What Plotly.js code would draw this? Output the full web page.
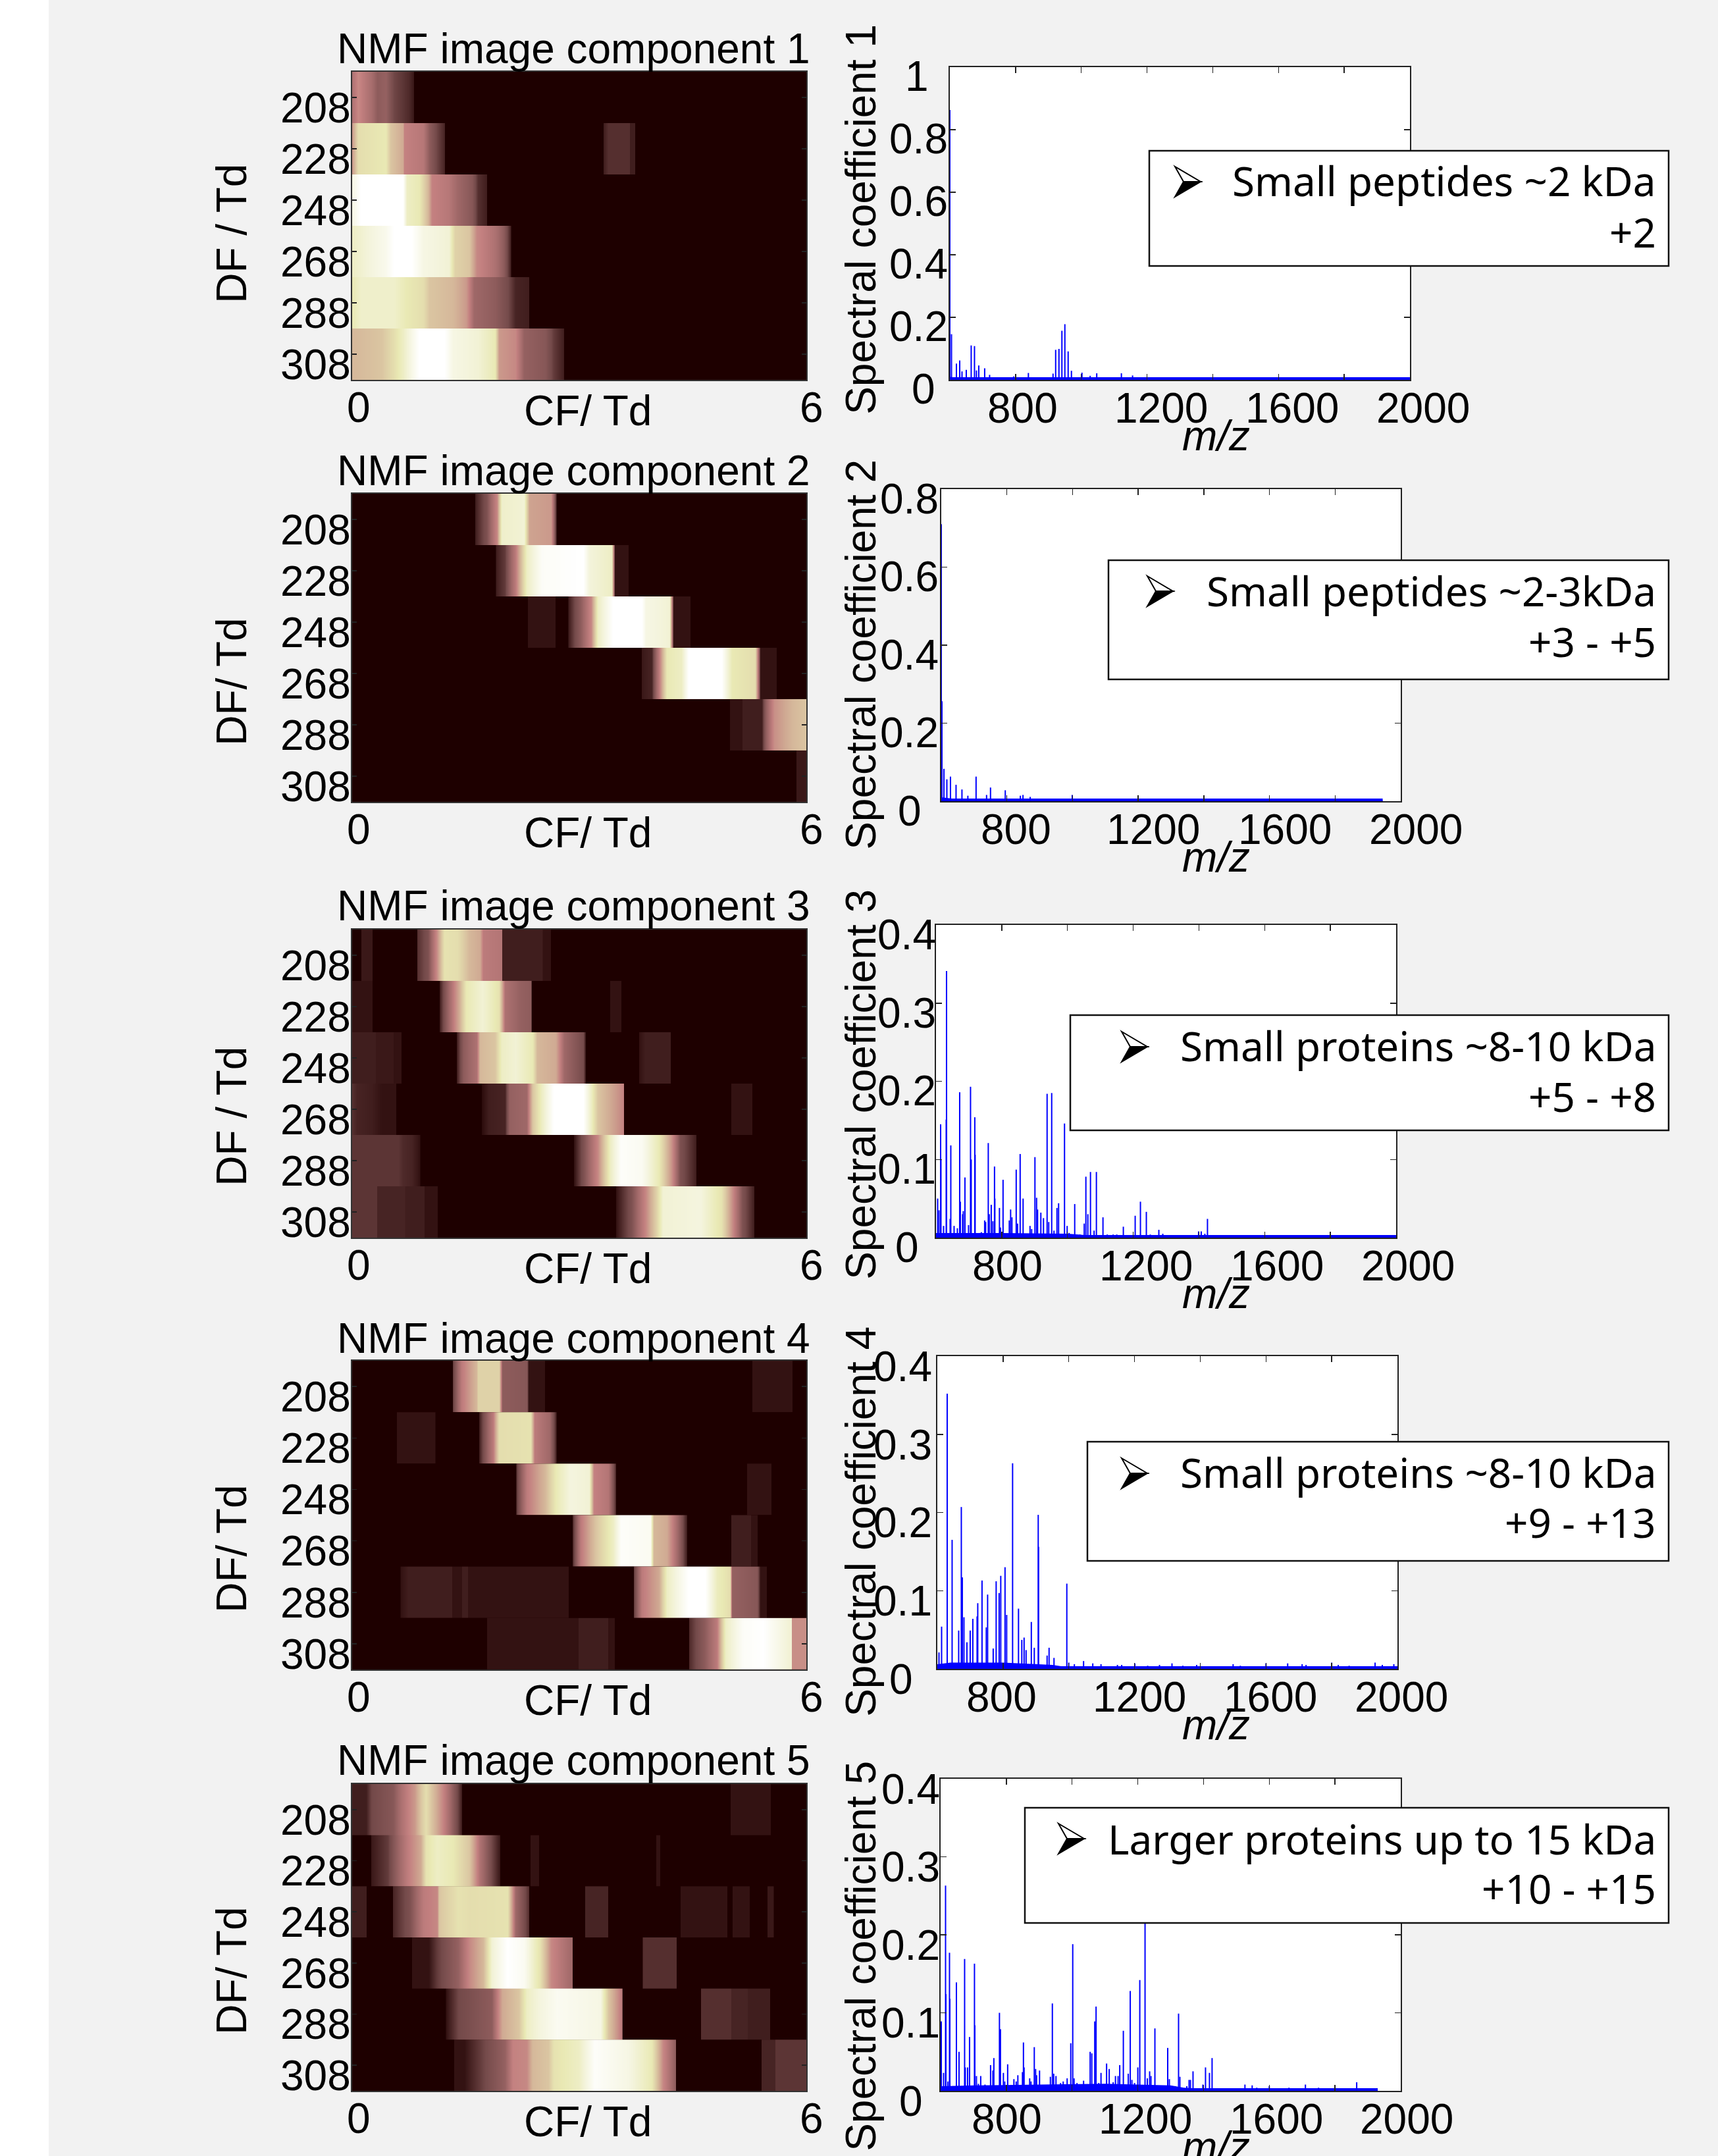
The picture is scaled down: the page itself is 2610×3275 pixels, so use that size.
<!DOCTYPE html>
<html><head><meta charset="utf-8">
<script src="https://cdn.plot.ly/plotly-3.0.1.min.js"></script>
<style>html,body{margin:0;padding:0;background:#fff}#g{width:2610px;height:3275px}</style>
</head><body><div id="g"></div>
<script>
const dfTicks=[208,228,248,268,288,308];
const cfLabels=['0','6'];
const titles=['NMF image component 1','NMF image component 2','NMF image component 3','NMF image component 4','NMF image component 5'];
const dfTitles=['DF / Td','DF/ Td','DF / Td','DF/ Td','DF/ Td'];
const specTitles=['Spectral coefficient 1','Spectral coefficient 2','Spectral coefficient 3','Spectral coefficient 4','Spectral coefficient 5'];
const notes1=['Small peptides ~2 kDa','Small peptides ~2-3kDa','Small proteins ~8-10 kDa','Small proteins ~8-10 kDa','Larger proteins up to 15 kDa'];
const notes2=['+2','+3 - +5','+5 - +8','+9 - +13','+10 - +15'];
const mzLabels=[800,1200,1600,2000];
const specMax=[1,0.8,0.4,0.4,0.4];
const specTicks=[[0,0.2,0.4,0.6,0.8,1],[0,0.2,0.4,0.6,0.8],[0,0.1,0.2,0.3,0.4],[0,0.1,0.2,0.3,0.4],[0,0.1,0.2,0.3,0.4]];

// image components: each row is CF, value, CF, value ...
const image1=[
[0,.3,.08,.4,.17,.33,.25,.28,.33,.2,.44,.22,.55,.12,.67,.09,.75,.07,.81,.04,.82,0,6,0],
[0,.45,.08,.7,.22,.72,.44,.75,.5,.6,.67,.5,.69,.38,.94,.33,1.02,.2,1.11,.12,1.22,.06,1.23,0,3.31,0,3.32,.05,3.38,.08,3.66,.08,3.67,.05,3.73,.05,3.74,0,6,0],
[0,.9,.11,1,.67,1,.72,.8,.89,.75,1.0,.55,1.05,.38,1.28,.33,1.39,.25,1.58,.18,1.66,.08,1.77,.05,1.78,0,6,0],
[0,.8,.22,.87,.44,.93,.55,1,.78,1,.94,.9,1.28,.85,1.36,.65,1.55,.6,1.64,.4,1.89,.3,2.0,.2,2.09,.06,2.10,0,6,0],
[0,.75,.11,.82,.55,.82,.72,.75,.94,.7,1.02,.6,1.33,.55,1.5,.45,1.61,.25,1.89,.2,2.05,.13,2.16,.06,2.33,.05,2.34,0,6,0],
[0,.55,.39,.6,.55,.7,.67,.8,.83,.95,.89,1,1.22,1,1.33,.9,1.66,.85,1.89,.75,1.94,.45,2.16,.4,2.27,.22,2.55,.18,2.66,.1,2.79,.05,2.80,0,6,0]];
const image2=[
[0,0,1.62,0,1.63,.05,1.77,.15,1.91,.4,1.97,.82,2.27,.85,2.34,.48,2.63,.45,2.69,.1,2.70,0,6,0],
[0,0,1.89,0,1.90,.05,2.02,.1,2.16,.35,2.30,.8,2.50,.97,3.05,1,3.13,.87,3.43,.8,3.47,.03,3.64,.03,3.65,0,6,0],
[0,0,2.31,0,2.32,.03,2.68,.03,2.69,0,2.84,0,2.86,.05,3.02,.2,3.16,.4,3.24,.8,3.44,1,3.83,1,3.88,.9,4.19,.85,4.24,.03,4.46,.03,4.47,0,6,0],
[0,0,3.82,0,3.83,.04,3.96,.06,4.05,.35,4.16,.75,4.35,.8,4.44,1,4.88,1,5.02,.75,5.32,.7,5.39,.03,5.60,.03,5.61,0,6,0],
[0,0,4.98,0,4.99,.03,5.15,.03,5.16,.05,5.41,.05,5.46,.2,5.57,.42,5.82,.55,6,.6],
[0,0,5.86,0,5.87,.04,6,.04]];
const image3=[
[0,0,.11,0,.12,.04,.26,.04,.27,0,.85,0,.86,.08,1.0,.15,1.11,.4,1.22,.72,1.39,.7,1.55,.55,1.69,.5,1.73,.35,1.97,.32,1.98,.05,2.5,.05,2.52,.03,2.62,.03,2.63,0,6,0],
[0,.03,.26,.03,.27,0,1.15,0,1.16,.05,1.3,.3,1.41,.5,1.5,.75,1.72,.85,1.94,.72,2.02,.3,2.22,.22,2.36,.2,2.37,0,3.4,0,3.41,.03,3.55,.03,3.56,0,6,0],
[0,.05,.3,.05,.31,.04,.54,.04,.55,.03,.64,.03,.65,0,1.37,0,1.38,.05,1.47,.2,1.64,.3,1.69,.55,1.89,.6,1.97,.8,2.16,.85,2.38,.75,2.44,.55,2.69,.5,2.8,.25,3.05,.13,3.08,.05,3.09,0,3.78,0,3.79,.03,3.87,.05,4.2,.05,4.21,0,6,0],
[0,.08,.06,.06,.25,.05,.39,.03,.57,.03,.58,0,1.7,0,1.71,.02,1.8,.05,2.02,.06,2.08,.22,2.3,.25,2.38,.6,2.5,.8,2.66,1,3.05,1,3.16,.8,3.24,.6,3.49,.45,3.58,.38,3.59,0,5.0,0,5.01,.03,5.28,.03,5.29,0,6,0],
[0,.09,.61,.09,.67,.07,.78,.06,.89,.03,.9,0,2.92,0,2.93,.03,3.05,.15,3.24,.4,3.41,.8,3.55,.98,3.83,.95,4.05,.75,4.21,.45,4.33,.15,4.54,.05,4.55,0,6,0],
[0,.09,.32,.09,.33,.06,.69,.06,.7,.05,.95,.05,.96,.03,1.12,.03,1.13,0,3.48,0,3.49,.03,3.69,.15,3.88,.4,4.02,.65,4.1,.85,4.6,.88,4.88,.72,5.05,.35,5.16,.15,5.3,.05,5.31,0,6,0]];
const image4=[
[0,0,1.32,0,1.33,.1,1.44,.35,1.64,.55,1.66,.65,1.94,.65,1.98,.2,2.3,.18,2.33,.03,2.54,.03,2.55,0,5.28,0,5.29,.03,5.81,.03,5.82,0,6,0],
[0,0,.58,0,.59,.03,1.09,.03,1.1,0,1.67,0,1.68,.05,1.86,.35,1.94,.7,2.36,.72,2.41,.35,2.61,.25,2.69,.07,2.7,0,6,0],
[0,0,2.16,0,2.17,.1,2.3,.35,2.55,.55,2.69,.75,2.88,.88,3.13,.85,3.19,.38,3.38,.32,3.48,.07,3.49,0,5.21,0,5.22,.03,5.53,.03,5.54,0,6,0],
[0,0,2.9,0,2.91,.07,3.02,.35,3.22,.6,3.44,.8,3.55,.98,3.94,.95,3.98,.55,4.16,.5,4.24,.35,4.38,.1,4.42,.05,4.43,0,5.0,0,5.01,.05,5.26,.05,5.27,.03,5.35,.03,5.36,0,6,0],
[0,0,.63,0,.64,.03,.74,.05,1.31,.05,1.32,.03,1.44,.03,1.45,.05,1.52,.05,1.53,.03,2.85,.03,2.86,0,3.71,0,3.72,.1,3.83,.35,4.05,.5,4.16,.8,4.44,1,4.66,1,4.82,.78,4.99,.7,5.02,.22,5.35,.18,5.39,.03,5.47,.03,5.48,0,6,0],
[0,0,1.77,0,1.78,.03,2.98,.03,2.99,.05,3.37,.05,3.38,.03,3.46,.03,3.47,0,4.44,0,4.45,.07,4.66,.2,4.82,.35,4.93,.8,5.16,.97,5.43,1,5.77,.85,5.8,.85,5.81,.42,6,.42]];
const image5=[
[0,.05,.18,.05,.25,.12,.54,.18,.65,.3,.83,.45,.9,.6,.97,.7,1.04,.6,1.19,.4,1.33,.2,1.44,.05,1.45,0,4.99,0,5,.03,5.52,.03,5.53,0,6,0],
[0,0,.24,0,.25,.04,.47,.1,.72,.35,.9,.5,.97,.72,1.12,.8,1.33,.75,1.55,.6,1.69,.3,1.84,.12,1.95,.04,1.96,0,2.35,0,2.36,.03,2.46,.03,2.47,0,4.01,0,4.02,.03,4.06,.03,4.07,0,6,0],
[0,.05,.18,.05,.19,0,.53,0,.54,.06,.76,.15,.94,.35,1.12,.4,1.15,.6,1.4,.72,1.55,.7,2.05,.72,2.16,.25,2.33,.08,2.34,0,3.07,0,3.08,.06,3.37,.06,3.38,0,4.33,0,4.34,.03,4.95,.03,4.96,0,5.02,0,5.03,.03,5.24,.03,5.25,0,5.48,0,5.49,.04,5.56,.04,5.57,0,6,0],
[0,0,.78,0,.79,.03,1.01,.03,1.12,.1,1.4,.22,1.55,.4,1.73,.55,1.84,.85,2.05,1,2.27,.95,2.48,.72,2.63,.4,2.9,.25,2.91,0,3.83,0,3.84,.08,4.28,.08,4.29,0,6,0],
[0,0,1.23,0,1.24,.03,1.4,.12,1.84,.2,1.98,.5,2.2,.6,2.3,.8,2.48,.88,2.7,.95,3.28,.9,3.38,.6,3.56,.35,3.57,0,4.6,0,4.61,.08,5.0,.08,5.01,.06,5.22,.06,5.23,.05,5.51,.05,5.52,0,6,0],
[0,0,1.34,0,1.35,.03,1.48,.03,1.69,.1,2.02,.22,2.12,.38,2.3,.4,2.38,.55,2.59,.6,2.66,.72,2.99,.8,3.2,.98,3.64,.9,3.96,.75,4.1,.4,4.27,.2,4.28,0,5.4,0,5.41,.06,5.58,.06,5.59,.09,6,.09]];

// spectra: peak m/z and coefficient
const mz1=[600,605,620,630,637,650,665,675,681,688,706,721,794,839,914,922,932,941,950,960,970,1002,1027,1047,1122,1156];
const co1=[.863,.146,.052,.062,.027,.032,.11,.108,.03,.046,.037,.016,.011,.022,.02,.096,.099,.157,.178,.091,.029,.023,.013,.021,.021,.014];
const mz2=[600,602,608,617,628,645,663,681,706,738,750,795,841,849,871,999];
const co2=[.71,.256,.083,.056,.063,.042,.03,.014,.063,.016,.035,.028,.014,.016,.011,.016];
const mz3=[605,609,614,615,623,631,632,643,645,655,665,672,674,681,683,688,699,705,707,718,719,733,738,748,751,759,762,768,773,778,779,793,796,804,823,827,831,844,848,856,865,886,891,901,906,909,919,927,938,943,952,959,968,973,991,999,1005,1022,1038,1051,1056,1062,1070,1081,1088,1108,1121,1139,1150,1170,1206,1222,1240,1252,1278,1290,1399,1407,1418,1426];
const co3=[.05,.035,.145,.1,.015,.151,.341,.024,.118,.015,.012,.186,.046,.03,.034,.077,.016,.193,.1,.154,.106,.006,.007,.022,.02,.121,.03,.042,.021,.091,.05,.038,.013,.074,.022,.036,.026,.087,.018,.107,.05,.015,.011,.103,.051,.036,.032,.025,.184,.02,.185,.009,.038,.044,.146,.015,.006,.043,.004,.018,.078,.03,.084,.009,.084,.026,.004,.004,.004,.014,.028,.046,.033,.004,.01,.005,.008,.008,.005,.024];
const mz4=[605,613,630,645,665,673,676,681,690,700,708,721,723,736,749,753,770,779,788,793,806,811,829,847,857,864,870,886,895,907,908,934,940,955,994,1000,1017,1045,1073,1098,1148,1161,1201,1240,1276,1314,1347,1389,1500,1522,1600,1666,1710,1722,1800,1820,1853,1932,1954,1989];
const co4=[.021,.054,.352,.165,.049,.207,.117,.066,.034,.049,.064,.067,.084,.113,.053,.095,.026,.112,.097,.119,.13,.069,.263,.077,.037,.04,.024,.06,.027,.197,.156,.017,.027,.014,.109,.008,.006,.01,.007,.006,.005,.005,.007,.004,.005,.007,.004,.005,.006,.004,.007,.007,.006,.005,.008,.005,.004,.008,.005,.006];
const mz5=[602,609,615,616,622,627,628,635,648,656,673,675,682,688,699,703,704,709,715,722,735,752,759,762,769,779,782,791,795,804,815,823,830,835,849,852,854,871,875,885,889,892,901,912,922,934,940,944,951,965,973,985,996,1002,1006,1015,1035,1055,1060,1069,1073,1081,1088,1105,1113,1125,1132,1140,1145,1156,1171,1177,1182,1190,1200,1206,1222,1229,1236,1240,1252,1279,1291,1296,1304,1314,1324,1328,1349,1356,1360,1368,1398,1406,1418,1426,1434,1526,1548,1562,1600,1660,1710,1750,1800,1866];
const co5=[.089,.023,.263,.124,.012,.177,.118,.005,.139,.05,.169,.03,.03,.069,.006,.163,.084,.019,.009,.019,.008,.033,.026,.042,.006,.1,.079,.023,.012,.034,.007,.015,.012,.02,.024,.062,.03,.016,.012,.056,.028,.02,.026,.006,.006,.018,.112,.022,.019,.01,.012,.016,.061,.188,.016,.01,.013,.05,.048,.089,.108,.01,.023,.035,.028,.011,.019,.019,.033,.077,.022,.128,.014,.01,.03,.142,.24,.016,.025,.019,.08,.006,.055,.015,.006,.006,.099,.018,.006,.014,.014,.025,.008,.03,.023,.042,.003,.008,.007,.004,.006,.004,.008,.004,.007,.011];
const peaksMz=[mz1,mz2,mz3,mz4,mz5], peaksCo=[co1,co2,co3,co4,co5];
// blue floor of low-level signal: m/z, coefficient
const floorMz=[[600,620,700,960,1000,1300,2000],[575,600,640,700,900,1500,1945],[600,640,800,1000,1100,1300,2000],[600,640,800,950,1000,1500,2000],[600,700,900,1100,1300,1340,1430,1930]];
const floorCo=[[.01,.006,.004,.005,.003,.003,.003],[.006,.01,.006,.003,.003,.002,.002],[.006,.006,.006,.005,.002,.002,.002],[.006,.008,.008,.005,.002,.002,.002],[.006,.007,.008,.009,.007,.004,.002,.002]];
const baselineEnd=[[600,2000],[575,1945],[600,2000],[600,2000],[600,1930]];

const images=[image1,image2,image3,image4,image5];
const pink=[[0,'#1e0000'],[.125,'#744a4a'],[.25,'#9f6868'],[.375,'#c38080'],[.5,'#d0aa93'],[.625,'#ddcca5'],[.75,'#e9e9b4'],[.875,'#f4f4dd'],[1,'#ffffff']];

const W=2610,H=3275;
const hX=[535,1225];
const hTop=[109,750,1412,2067,2710], hBot=[577,1218,1880,2536,3176];
const titleBase=[96,737,1398,2055,2696], dfMid=[355,1036,1696,2353,2994];
const sX=[[1443,2142],[1430,2128],[1422,2121],[1424,2123],[1429,2128]];
const sTop=[102,743,1405,2060,2702], sBot=[577,1217,1880,2535,3176];
const sMid=[333,994,1647,2311,2971];
const yLabX=[1395,1381,1377,1371,1383], yLabX0=[1403,1382,1378,1369,1384], yLabShift=[36,37,37,38,38];
const xShift=[[11,21,21,20],[14,23,23,23],[9,19,19,18],[-2,7,7,6],[1,11,11,9]];
const box=[[1746,229,404],[1684,851,1032],[1626,1542,1717],[1652,2190,2371],[1557,2746,2921]];
const noteBase=[[298,376],[921,998],[1612,1689],[2260,2336],[2817,2892]];
const arrow=[[1804,276],[1762,898],[1723,1590],[1723,2238],[1627,2793]];

const FONT='"Liberation Sans",Arial,sans-serif', FS=64, NOTEFS=62;
const px=x=>x/W, py=y=>1-y/H;
const layout={width:W,height:H,margin:{l:0,r:0,t:0,b:0},paper_bgcolor:'#f2f2f2',plot_bgcolor:'#ffffff',showlegend:false,
 font:{family:FONT,size:FS,color:'#000'},annotations:[],
 shapes:[{type:'rect',xref:'paper',yref:'paper',x0:0,x1:74/W,y0:0,y1:1,fillcolor:'#ffffff',line:{width:0},layer:'below'}]};
const data=[];
const ann=o=>layout.annotations.push(Object.assign({showarrow:false,borderpad:0,font:{family:FONT,size:FS,color:'#000'}},o));
const text=(t,x,base,o={})=>ann(Object.assign({text:t,xref:'paper',yref:'paper',x:px(x),y:py(base-.3465*FS),xanchor:'center',yanchor:'middle'},o));
const poly=pts=>'M'+pts.map(p=>px(p[0])+','+py(p[1])).join('L')+'Z';

for(let i=0;i<5;i++){
  const hx='x'+(i+1),hy='y'+(i+1),sx='x'+(i+6),sy='y'+(i+6);
  // image panel
  layout['xaxis'+(i+1)]={domain:[px(hX[0]),px(hX[1])],range:[0,6],anchor:hy,tickvals:[],showticklabels:false,showline:true,mirror:true,linecolor:'#333',linewidth:2,showgrid:false,zeroline:false};
  layout['yaxis'+(i+1)]={domain:[py(hBot[i]),py(hTop[i])],range:[318,198],anchor:hx,tickmode:'array',tickvals:dfTicks,ticks:'inside',ticklen:7,tickwidth:1.5,tickcolor:'#222',showticklabels:false,showline:true,mirror:'ticks',linecolor:'#333',linewidth:2,showgrid:false,zeroline:false};
  // dark ground under the six rows, so no light seam shows between them
  data.push({type:'heatmap',xaxis:hx,yaxis:hy,x:[0,6],y:[198,318],z:[[0,0],[0,0]],zmin:0,zmax:1,colorscale:pink,showscale:false,hoverinfo:'skip'});
  images[i].forEach((row,r)=>{
    const cf=row.filter((_,k)=>k%2==0), v=row.filter((_,k)=>k%2==1), d=dfTicks[r];
    data.push({type:'heatmap',xaxis:hx,yaxis:hy,x:cf,y:[d-5,d+5],z:[v,v],zmin:0,zmax:1,zsmooth:'best',colorscale:pink,showscale:false,hoverinfo:'skip'});
  });
  text(titles[i],871,titleBase[i]);
  dfTicks.forEach(d=>ann({text:String(d),xref:'paper',yref:hy,x:px(534),y:d,xanchor:'right',yanchor:'middle',yshift:-(38-.3465*FS)}));
  text(cfLabels[0],545,hBot[i]+64); text(cfLabels[1],1233,hBot[i]+64);
  text('CF/ Td',893,hBot[i]+69);
  ann({text:dfTitles[i],xref:'paper',yref:'paper',x:px(374-.3465*FS),y:py(dfMid[i]),textangle:-90,xanchor:'center',yanchor:'middle'});
  // spectrum panel
  const xTicks=[800,1000,1200,1400,1600,1800];
  layout['xaxis'+(i+6)]={domain:[px(sX[i][0]),px(sX[i][1])],range:[600,2000],anchor:sy,tickmode:'array',tickvals:xTicks,ticks:'inside',ticklen:9,tickwidth:1.5,tickcolor:'#222',showticklabels:false,showline:true,mirror:'ticks',linecolor:'#222',linewidth:2,showgrid:false,zeroline:false};
  layout['yaxis'+(i+6)]={domain:[py(sBot[i]),py(sTop[i])],range:[0,specMax[i]],anchor:sx,tickmode:'array',tickvals:specTicks[i],ticks:'inside',ticklen:9,tickwidth:1.5,tickcolor:'#222',showticklabels:false,showline:true,mirror:'ticks',linecolor:'#222',linewidth:2,showgrid:false,zeroline:false};
  data.push({type:'scatter',mode:'lines',xaxis:sx,yaxis:sy,x:floorMz[i],y:floorCo[i],fill:'tozeroy',fillcolor:'#0000ff',line:{width:0,color:'#0000ff'},cliponaxis:false,hoverinfo:'skip'});
  const sxs=[],sys=[]; peaksMz[i].forEach((m,k)=>{sxs.push(m,m,null);sys.push(0,peaksCo[i][k],null);});
  data.push({type:'scatter',mode:'lines',xaxis:sx,yaxis:sy,x:sxs,y:sys,line:{width:2,color:'#0000ff'},cliponaxis:false,connectgaps:false,hoverinfo:'skip'});
  data.push({type:'scatter',mode:'lines',xaxis:sx,yaxis:sy,x:baselineEnd[i],y:[0,0],line:{width:8,color:'#0000ff'},cliponaxis:false,hoverinfo:'skip'});
  specTicks[i].forEach(v=>{
    const lab=String(v);
    ann({text:lab,xref:'paper',yref:sy,x:px(v===0?yLabX0[i]:(v===1?1393:yLabX[i])),y:v,xanchor:'center',yanchor:'middle',yshift:-(yLabShift[i]-.3465*FS)});
  });
  mzLabels.forEach((m,k)=>ann({text:String(m),xref:sx,yref:'paper',x:m,xshift:xShift[i][k],y:py(sBot[i]+65.5-.3465*FS),xanchor:'center',yanchor:'middle'}));
  text('<i>m/z</i>',1847,sBot[i]+107);
  ann({text:specTitles[i],xref:'paper',yref:'paper',x:px(1330-.3465*FS),y:py(sMid[i]),textangle:-90,xanchor:'center',yanchor:'middle'});
  // note box
  layout.shapes.push({type:'rect',xref:'paper',yref:'paper',x0:px(box[i][0]),x1:px(2535),y0:py(box[i][2]),y1:py(box[i][1]),fillcolor:'#ffffff',line:{color:'#111',width:2.5},layer:'above'});
  const nf={family:'"Noto Sans","Open Sans",sans-serif',size:NOTEFS,color:'#000'};
  [notes1[i],notes2[i]].forEach((t,k)=>ann({text:t,xref:'paper',yref:'paper',x:px(2517),y:py(noteBase[i][k]-.388*NOTEFS),xanchor:'right',yanchor:'middle',font:nf}));
  const [ax,ay]=arrow[i];
  layout.shapes.push({type:'path',xref:'paper',yref:'paper',path:poly([[ax-19,ay-23],[ax+20,ay],[ax-6,ay]]),fillcolor:'#ffffff',line:{color:'#000',width:2},layer:'above'});
  layout.shapes.push({type:'path',xref:'paper',yref:'paper',path:poly([[ax-19,ay+23],[ax+20,ay],[ax-6,ay]]),fillcolor:'#000000',line:{color:'#000',width:2},layer:'above'});
}
Plotly.newPlot('g',data,layout,{staticPlot:true,displayModeBar:false});
</script></body></html>
